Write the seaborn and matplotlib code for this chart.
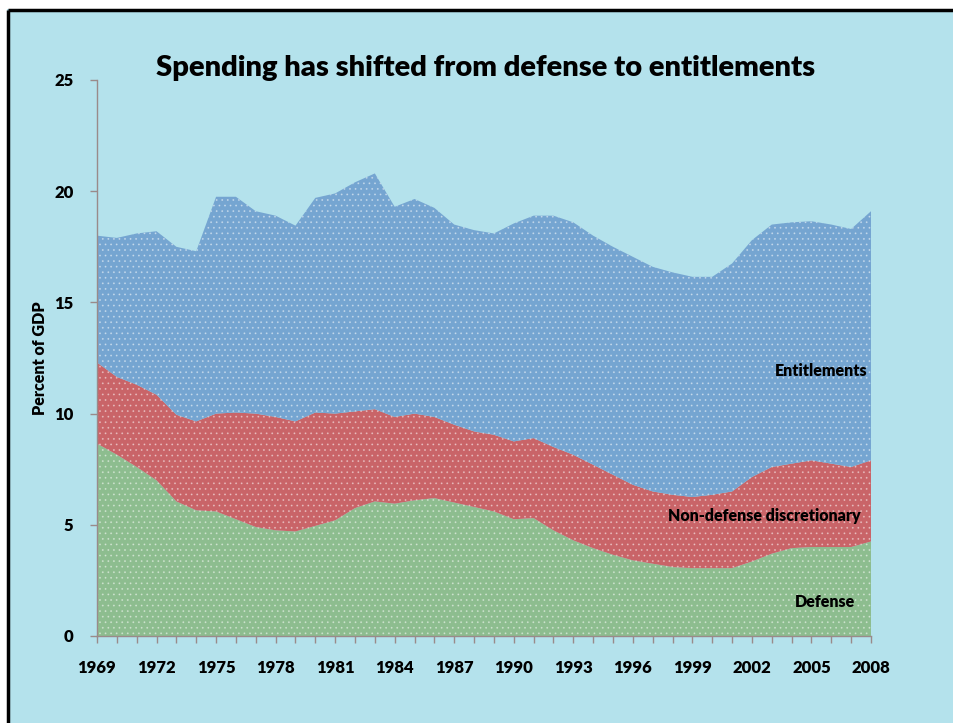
import numpy as np
import pandas as pd
import matplotlib
matplotlib.use("Agg")
import matplotlib.pyplot as plt
from matplotlib.lines import Line2D
from matplotlib.patches import Rectangle
import seaborn as sns

years = list(range(1969, 2009))

# defense, percent of GDP
defense = [8.65, 8.15, 7.6, 7.0, 6.05, 5.65, 5.6, 5.25, 4.9, 4.75,
           4.7, 4.95, 5.2, 5.75, 6.05, 5.95, 6.1, 6.2, 6.0, 5.8,
           5.6, 5.25, 5.3, 4.75, 4.3, 3.95, 3.65, 3.4, 3.25, 3.1,
           3.05, 3.05, 3.05, 3.35, 3.7, 3.95, 4.0, 4.0, 4.0, 4.25]
# top of defense + non-defense discretionary
discretionary_top = [12.3, 11.65, 11.3, 10.85, 9.95, 9.65, 10.0, 10.05, 10.0, 9.85,
                     9.65, 10.05, 10.0, 10.1, 10.2, 9.85, 10.0, 9.85, 9.5, 9.2,
                     9.05, 8.75, 8.9, 8.5, 8.15, 7.7, 7.25, 6.8, 6.5, 6.35,
                     6.25, 6.35, 6.5, 7.15, 7.6, 7.75, 7.9, 7.75, 7.6, 7.9]
# total spending (top of entitlements)
total_top = [18.0, 17.9, 18.1, 18.2, 17.5, 17.3, 19.75, 19.75, 19.1, 18.9,
             18.45, 19.7, 19.9, 20.4, 20.8, 19.3, 19.65, 19.25, 18.5, 18.25,
             18.1, 18.55, 18.9, 18.9, 18.6, 18.0, 17.5, 17.05, 16.6, 16.35,
             16.15, 16.15, 16.75, 17.8, 18.5, 18.6, 18.65, 18.5, 18.3, 19.1]

df = pd.DataFrame({"year": years, "Defense": defense,
                   "Non-defense discretionary": np.array(discretionary_top) - np.array(defense),
                   "Entitlements": np.array(total_top) - np.array(discretionary_top)})

sns.set_style("ticks")
plt.rcParams["font.family"] = ["Lato", "DejaVu Sans"]
plt.rcParams["text.color"] = "black"
plt.rcParams["xtick.color"] = "black"
plt.rcParams["ytick.color"] = "black"
plt.rcParams["axes.labelcolor"] = "black"
plt.rcParams["hatch.linewidth"] = 0.6

bg = "#b4e2ec"
colors = ["#8dbd8f", "#c96468", "#75a5d1"]

fig = plt.figure(figsize=(9.54, 7.23), dpi=100, facecolor=bg, edgecolor=bg, linewidth=0)
# white strip above / left of the black border
fig.patches.append(Rectangle((0, 1 - 9 / 723), 1.2, 0.2, transform=fig.transFigure,
                             facecolor="white", edgecolor="none", zorder=-10))
fig.patches.append(Rectangle((-0.1, -0.1), 0.1 + 7 / 954, 1.3, transform=fig.transFigure,
                             facecolor="white", edgecolor="none", zorder=-10))
fig.lines.append(Line2D([8 / 954, 8 / 954], [-0.1, 1 - 10 / 723], transform=fig.transFigure,
                        color="black", linewidth=2.5, solid_capstyle="butt"))
fig.lines.append(Line2D([8 / 954, 1.2], [1 - 10 / 723, 1 - 10 / 723], transform=fig.transFigure,
                        color="black", linewidth=2.5, solid_capstyle="butt"))

ax = fig.add_axes([97 / 954, 87 / 723, 774 / 954, 556 / 723])
ax.patch.set_alpha(0)
polys = ax.stackplot(df["year"], df["Defense"], df["Non-defense discretionary"],
                     df["Entitlements"], colors=colors, linewidth=0)
for p in polys:
    p.set_hatch("...")
    p.set_edgecolor((1, 1, 1, 0.4))

ax.set_xlim(1969, 2008)
ax.set_ylim(0, 25)
ax.set_xticks(years, minor=True)
ax.set_xticks(list(range(1969, 2009, 3)))
ax.set_yticks([0, 5, 10, 15, 20, 25])
ax.tick_params(axis="both", which="both", color="#9a8a8a", length=5, width=1)
ax.tick_params(axis="x", which="major", pad=12, labelsize=12)
ax.tick_params(axis="y", labelsize=12, pad=12)
for t in ax.get_xticklabels() + ax.get_yticklabels():
    t.set_fontweight("heavy")
sns.despine(ax=ax)
for side in ["left", "bottom"]:
    ax.spines[side].set_color("#9a8a8a")
    ax.spines[side].set_linewidth(1)

ax.set_ylabel("Percent of GDP", fontsize=11.5, fontweight="heavy", labelpad=4)
fig.text(486 / 954, 1 - 68 / 723, "Spending has shifted from defense to entitlements",
         ha="center", va="center", fontsize=21, fontweight="heavy")

ax.text(2007.8, 11.9, "Entitlements", ha="right", va="center", fontsize=11.5, fontweight="heavy")
ax.text(2007.5, 5.4, "Non-defense discretionary", ha="right", va="center", fontsize=11.5, fontweight="heavy")
ax.text(2007.2, 1.55, "Defense", ha="right", va="center", fontsize=11.5, fontweight="heavy")

fig.savefig("out.png", dpi=100, facecolor=bg, edgecolor=bg)
